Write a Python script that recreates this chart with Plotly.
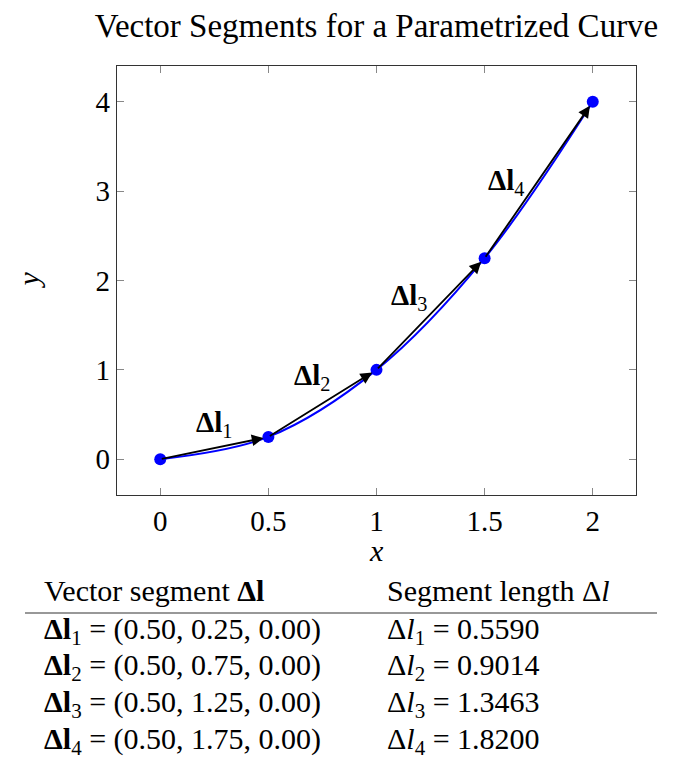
import plotly.graph_objects as go

# Data
px_pts = [0.0, 0.5, 1.0, 1.5, 2.0]
py_pts = [0.0, 0.25, 1.0, 2.25, 4.0]
seg_labels = ["<b>Δl</b><sub>1</sub>", "<b>Δl</b><sub>2</sub>", "<b>Δl</b><sub>3</sub>", "<b>Δl</b><sub>4</sub>"]
label_x = [0.25, 0.70, 1.15, 1.60]
label_y = [0.40, 0.92, 1.82, 3.10]
seg_dx = ["0.50", "0.50", "0.50", "0.50"]
seg_dy = ["0.25", "0.75", "1.25", "1.75"]
seg_dz = ["0.00", "0.00", "0.00", "0.00"]
seg_len = ["0.5590", "0.9014", "1.3463", "1.8200"]
x_ticks = [0, 0.5, 1, 1.5, 2]
x_tick_text = ["0", "0.5", "1", "1.5", "2"]
y_ticks = [0, 1, 2, 3, 4]

FONT = "Liberation Serif"
W, H = 673, 765
L, R, T, B = 117, 37, 66, 270
PW = W - L - R
PH = H - T - B

def py2paper(py):
    return (H - B - py) / PH

def px2paper(px):
    return (px - L) / PW

fig = go.Figure()
fig.add_trace(go.Scatter(x=px_pts, y=py_pts, mode="lines", line=dict(color="#0000ff", width=2, shape="spline", smoothing=1.0),
                         hoverinfo="skip", showlegend=False))

annotations = []
for i in range(4):
    annotations.append(dict(x=px_pts[i + 1], y=py_pts[i + 1], ax=px_pts[i], ay=py_pts[i],
                            xref="x", yref="y", axref="x", ayref="y", text="", showarrow=True,
                            arrowhead=2, arrowsize=1.3, arrowwidth=1.8, arrowcolor="black", standoff=5))
    annotations.append(dict(x=label_x[i], y=label_y[i], xref="x", yref="y", text=seg_labels[i], showarrow=False,
                            xanchor="center", yanchor="middle",
                            font=dict(family=FONT, size=29, color="black")))

fig.add_trace(go.Scatter(x=px_pts, y=py_pts, mode="markers", marker=dict(color="#0000ff", size=12),
                         hoverinfo="skip", showlegend=False))

# axis titles
annotations.append(dict(x=0.5, y=py2paper(550), xref="paper", yref="paper", text="<i>x</i>", showarrow=False,
                        xanchor="center", yanchor="middle",
                        font=dict(family=FONT, size=30, color="black")))
annotations.append(dict(x=px2paper(28), y=0.5, xref="paper", yref="paper", text="<i>y</i>", showarrow=False,
                        xanchor="center", yanchor="middle",
                        textangle=-90, font=dict(family=FONT, size=30, color="black")))

# table
tfont = dict(family=FONT, size=30, color="black")
annotations.append(dict(x=px2paper(42), y=py2paper(590), xref="paper", yref="paper", xanchor="left", yanchor="middle",
                        text="Vector segment <b>Δl</b>", showarrow=False, font=tfont))
annotations.append(dict(x=px2paper(385), y=py2paper(590), xref="paper", yref="paper", xanchor="left", yanchor="middle",
                        text="Segment length Δ<i>l</i>", showarrow=False, font=tfont))
row_y = [631, 667, 704, 741]
for i in range(4):
    annotations.append(dict(x=px2paper(42), y=py2paper(row_y[i]), xref="paper", yref="paper", xanchor="left",
                            yanchor="middle",
                            text=f"<b>Δl</b><sub>{i+1}</sub> = ({seg_dx[i]}, {seg_dy[i]}, {seg_dz[i]})",
                            showarrow=False, font=tfont))
    annotations.append(dict(x=px2paper(385), y=py2paper(row_y[i]), xref="paper", yref="paper", xanchor="left",
                            yanchor="middle",
                            text=f"Δ<i>l</i><sub>{i+1}</sub> = {seg_len[i]}",
                            showarrow=False, font=tfont))

shapes = [dict(type="line", xref="paper", yref="paper", x0=px2paper(25), x1=px2paper(657),
               y0=py2paper(613), y1=py2paper(613), line=dict(color="#333333", width=1.2))]

axis_common = dict(showgrid=False, zeroline=False, showline=True, linecolor="#333333", linewidth=1.2,
                   mirror="allticks", ticks="inside", ticklen=7, tickcolor="#888888",
                   tickfont=dict(family=FONT, size=29, color="black"))

fig.update_layout(
    width=W, height=H,
    margin=dict(l=L, r=R, t=T, b=B),
    paper_bgcolor="white", plot_bgcolor="white",
    title=dict(text="Vector Segments for a Parametrized Curve", x=0.5, xref="paper", y=1 - 25 / H,
               yref="container", yanchor="middle", xanchor="center",
               font=dict(family=FONT, size=33, color="black")),
    xaxis=dict(range=[-0.2, 2.2], tickvals=x_ticks, ticktext=x_tick_text, **axis_common),
    yaxis=dict(range=[-0.4, 4.4], tickvals=y_ticks, **axis_common),
    annotations=annotations, shapes=shapes,
)

fig.write_html("out.html", config={"displayModeBar": False},
               post_script="document.body.style.margin='0';")
